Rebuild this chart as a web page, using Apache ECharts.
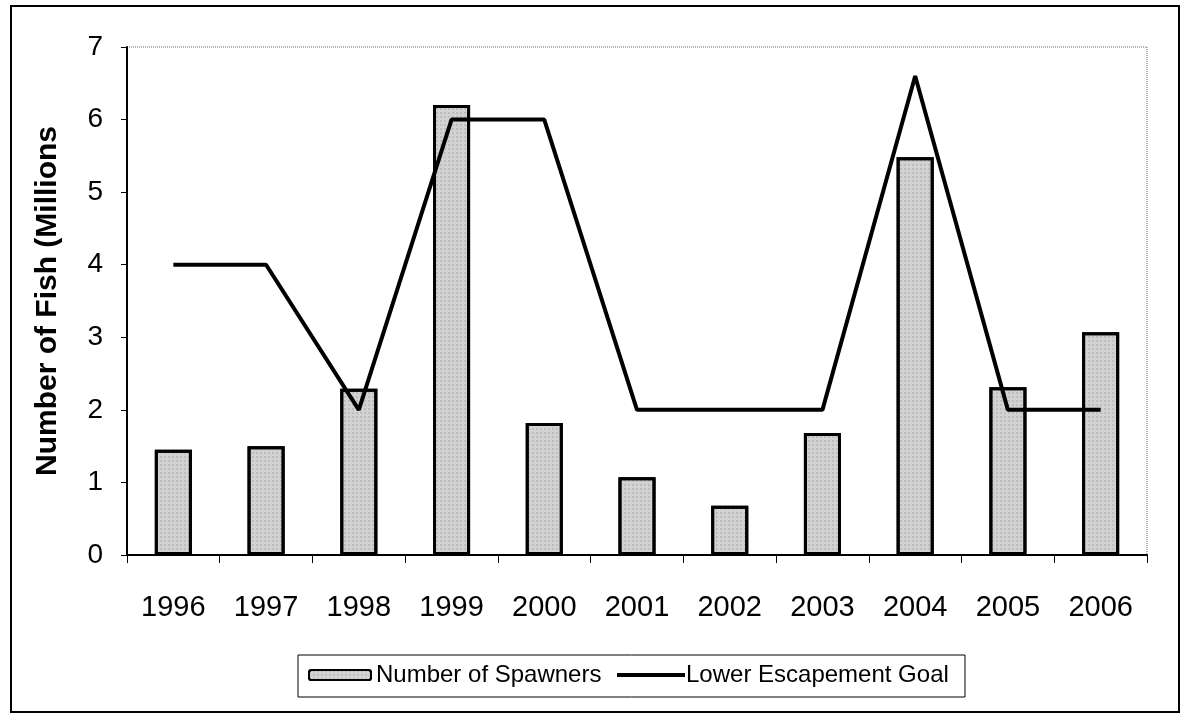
<!DOCTYPE html>
<html>
<head>
<meta charset="utf-8">
<script src="https://cdn.jsdelivr.net/npm/echarts@6/dist/echarts.min.js"></script>
<style>
html, body { margin: 0; padding: 0; background: #fff; }
#chart { width: 1181px; height: 719px; }
</style>
</head>
<body>
<div id="chart"></div>
<script>
var years = ['1996', '1997', '1998', '1999', '2000', '2001', '2002', '2003', '2004', '2005', '2006'];
var spawners = [1.45, 1.50, 2.29, 6.20, 1.82, 1.07, 0.68, 1.68, 5.48, 2.31, 3.07];
var goal = [4, 4, 2, 6, 6, 2, 2, 2, 6.6, 2, 2];
var yTicks = [0, 1, 2, 3, 4, 5, 6, 7];

var chart = echarts.init(document.getElementById('chart'));

var option = {
	animation : false,
	textStyle : {
		fontFamily : 'Liberation Sans, Arial, sans-serif',
		color : '#000'
	},
	graphic : [ {
		// outer frame
		type : 'rect',
		shape : { x : 11, y : 6, width : 1168, height : 706 },
		style : { fill : 'none', stroke : '#000', lineWidth : 2 },
		silent : true
	}, {
		// legend box
		type : 'rect',
		shape : { x : 298, y : 655, width : 667, height : 42 },
		style : { fill : 'none', stroke : '#000', lineWidth : 1 },
		silent : true
	} ],
	grid : {
		left : 127,
		top : 47,
		right : 34,
		bottom : 164,
		show : true,
		borderColor : '#666',
		borderWidth : 1,
		borderType : 'dotted'
	},
	legend : [ {
		left : 308,
		top : 663,
		data : [ 'Number of Spawners' ],
		itemWidth : 62,
		itemHeight : 10,
		padding : 0,
		textStyle : { fontSize : 24, color : '#000' }
	}, {
		left : 617,
		top : 663,
		data : [ 'Lower Escapement Goal' ],
		icon : 'rect',
		itemWidth : 68,
		itemHeight : 4,
		itemGap : 0,
		padding : 0,
		textStyle : { fontSize : 24, color : '#000', padding : [ 0, 0, 0, -4 ] }
	} ],
	xAxis : {
		type : 'category',
		data : years,
		axisLine : { lineStyle : { color : '#000', width : 2 } },
		axisTick : { show : true, length : 8, lineStyle : { color : '#000' } },
		axisLabel : { fontSize : 29, color : '#000', margin : 38 }
	},
	yAxis : {
		type : 'value',
		min : yTicks[0],
		max : yTicks[yTicks.length - 1],
		interval : 1,
		name : 'Number of Fish (Millions',
		nameLocation : 'middle',
		nameGap : 64,
		nameTextStyle : { fontSize : 30, fontWeight : 'bold', color : '#000' },
		axisLine : { show : true, lineStyle : { color : '#000', width : 2 } },
		axisTick : { show : true, length : 6, lineStyle : { color : '#000' } },
		axisLabel : { fontSize : 28, color : '#000', margin : 24 },
		splitLine : { show : false }
	},
	series : [ {
		name : 'Number of Spawners',
		type : 'bar',
		data : spawners,
		barWidth : '40%',
		itemStyle : {
			color : '#d2d2d2',
			borderColor : '#000',
			borderWidth : 3,
			decal : {
				symbol : 'rect',
				symbolSize : 0.6,
				color : 'rgba(60,60,60,0.45)',
				dashArrayX : [ 2, 2 ],
				dashArrayY : [ 2, 2 ],
				rotation : 0
			}
		}
	}, {
		name : 'Lower Escapement Goal',
		type : 'line',
		data : goal,
		symbol : 'none',
		lineStyle : { color : '#000', width : 4 },
		itemStyle : { color : '#000' }
	} ]
};

chart.setOption(option);
</script>
</body>
</html>
